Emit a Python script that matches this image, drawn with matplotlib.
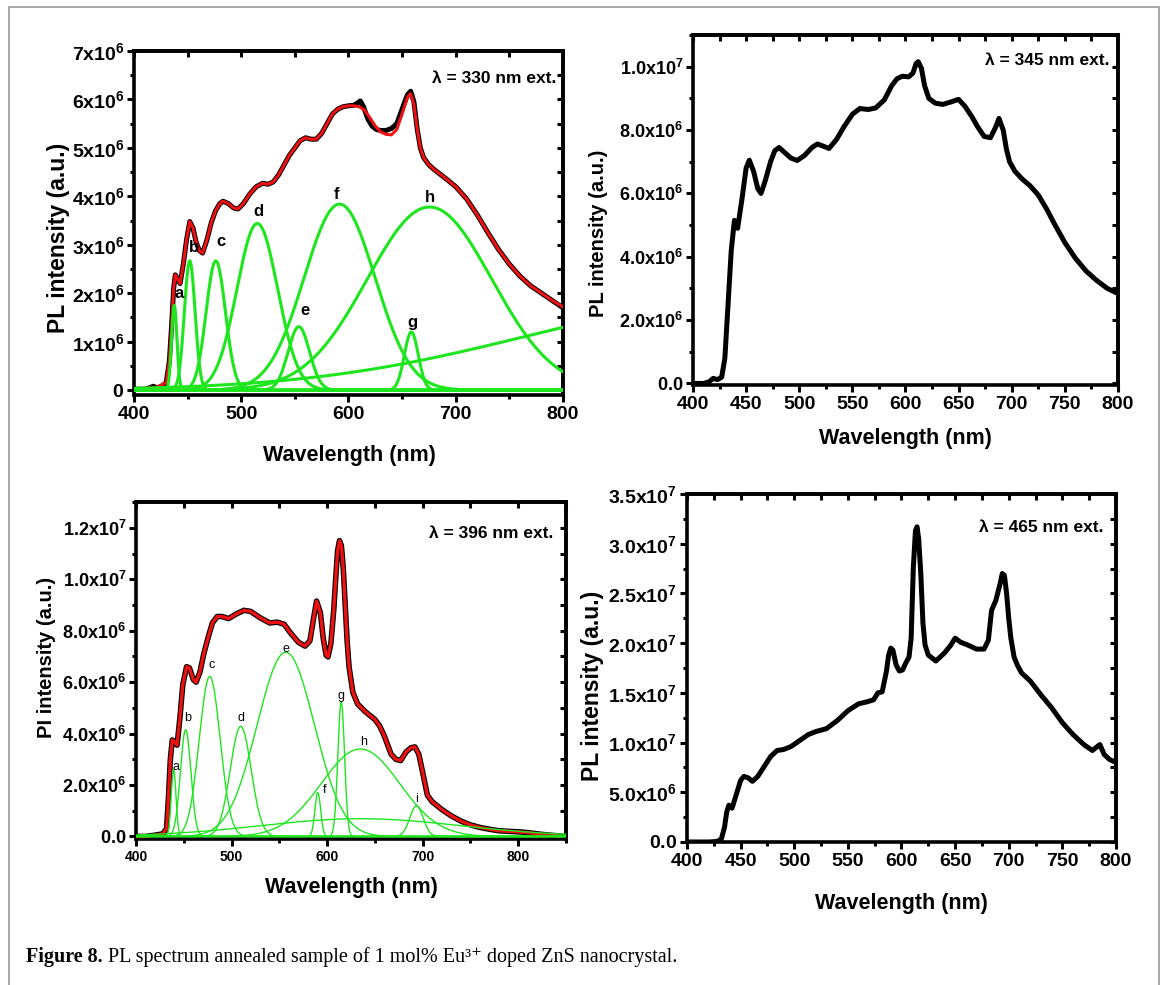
import numpy as np
import matplotlib
matplotlib.use('Agg')
import matplotlib.pyplot as plt
from matplotlib.ticker import MultipleLocator, FixedLocator
from matplotlib.patches import Rectangle

plt.rcParams['font.family'] = ['Liberation Sans', 'DejaVu Sans']
plt.rcParams['font.weight'] = 'bold'
plt.rcParams['mathtext.fontset'] = 'custom'
plt.rcParams['mathtext.rm'] = 'Liberation Serif'
plt.rcParams['mathtext.bf'] = 'Liberation Sans:bold'
plt.rcParams['mathtext.default'] = 'bf'

GREEN = '#1ee61e'

# ---- panel 1: 330 nm excitation (PL in units of 1e6) ----
p1_wl = [400, 410, 415, 418, 421, 425, 430, 433, 435, 437,
         438.5, 441, 443, 446, 449, 452, 455, 458, 461, 464,
         468, 472, 476, 480, 483, 488, 493, 497, 502, 508,
         514, 520, 525, 530, 535, 540, 545, 550, 555, 560,
         565, 570, 575, 580, 585, 590, 595, 600, 605, 608,
         611, 614, 618, 622, 626, 630, 635, 640, 645, 650,
         655, 658, 661, 664, 667, 670, 675, 680, 690, 700,
         710, 720, 730, 740, 750, 760, 770, 780, 790, 800]
p1_pl = [0.02, 0.02, 0.05, 0.08, 0.05, 0.07, 0.15, 0.6, 1.3, 2.1,
         2.38, 2.28, 2.2, 2.6, 3.1, 3.48, 3.35, 3.05, 2.88, 2.83,
         3.1, 3.45, 3.7, 3.85, 3.9, 3.85, 3.76, 3.74, 3.85, 4.05,
         4.2, 4.27, 4.25, 4.3, 4.45, 4.65, 4.85, 5.0, 5.15, 5.21,
         5.18, 5.18, 5.3, 5.5, 5.7, 5.8, 5.85, 5.87, 5.88, 5.92,
         5.97, 5.85, 5.6, 5.45, 5.38, 5.36, 5.36, 5.4, 5.5, 5.8,
         6.1, 6.17, 5.95, 5.4, 5.0, 4.8, 4.65, 4.55, 4.38, 4.2,
         3.95, 3.62, 3.25, 2.9, 2.6, 2.35, 2.15, 2.0, 1.85, 1.7]
p1_fit_wl = [400, 420, 430, 433, 435, 437, 438.5, 441, 443, 446,
             449, 452, 455, 458, 461, 464, 468, 472, 476, 480,
             483, 488, 493, 497, 502, 508, 514, 520, 525, 530,
             535, 540, 545, 550, 555, 560, 565, 570, 575, 580,
             585, 590, 595, 600, 605, 610, 615, 620, 625, 630,
             635, 640, 645, 650, 655, 658, 661, 664, 667, 670,
             675, 680, 690, 700, 710, 720, 730, 740, 750, 760,
             770, 780, 790, 800]
p1_fit = [0.02, 0.05, 0.15, 0.6, 1.3, 2.1, 2.38, 2.28, 2.2, 2.6,
          3.1, 3.48, 3.35, 3.05, 2.88, 2.83, 3.1, 3.45, 3.7, 3.85,
          3.9, 3.85, 3.76, 3.74, 3.85, 4.05, 4.2, 4.27, 4.25, 4.3,
          4.45, 4.65, 4.85, 5.0, 5.15, 5.21, 5.18, 5.18, 5.3, 5.5,
          5.7, 5.8, 5.85, 5.87, 5.87, 5.85, 5.78, 5.62, 5.45, 5.33,
          5.28, 5.27, 5.38, 5.7, 6.05, 6.12, 5.9, 5.4, 5.0, 4.8,
          4.65, 4.55, 4.38, 4.2, 3.95, 3.62, 3.25, 2.9, 2.6, 2.35,
          2.15, 2.0, 1.85, 1.72]
# gaussian components a-h plus broad background
p1_names = ['a', 'b', 'c', 'd', 'e', 'f', 'g', 'h', '']
p1_center = [437.6, 452, 476.3, 515, 553.7, 591.7, 658.6, 675.5, 968]
p1_height = [1.75, 2.67, 2.67, 3.44, 1.31, 3.84, 1.2, 3.78, 1.82]
p1_sigma = [2.5, 5, 9, 19, 10, 33, 6.5, 58, 204]
p1_lab_x = [442, 456, 481.6, 516, 559, 589, 659.6, 676]
p1_lab_y = [2.0, 2.95, 3.06, 3.69, 1.64, 4.03, 1.4, 3.98]

# ---- panel 2: 345 nm excitation ----
p2_wl = [400, 410, 415, 419, 423, 427, 430, 433, 436, 439,
         442, 446, 450, 453, 457, 461, 464, 468, 473, 477,
         481, 486, 492, 498, 505, 512, 517, 522, 528, 535,
         542, 550, 557, 565, 572, 580, 587, 592, 597, 603,
         607, 610, 612, 615, 618, 622, 628, 635, 642, 650,
         656, 662, 668, 674, 680, 685, 688, 692, 695, 698,
         703, 710, 717, 725, 733, 740, 750, 760, 770, 780,
         790, 800]
p2_pl = [0.0, 0.0, 0.05, 0.16, 0.12, 0.2, 0.8, 2.5, 4.2, 5.15,
         4.9, 5.8, 6.8, 7.05, 6.7, 6.15, 6.0, 6.4, 7.0, 7.35,
         7.45, 7.3, 7.12, 7.04, 7.2, 7.45, 7.56, 7.5, 7.42, 7.7,
         8.1, 8.5, 8.68, 8.65, 8.7, 8.95, 9.4, 9.62, 9.7, 9.68,
         9.8, 10.1, 10.16, 9.95, 9.4, 9.0, 8.85, 8.81, 8.88, 8.97,
         8.75, 8.45, 8.1, 7.8, 7.76, 8.1, 8.37, 8.0, 7.4, 7.0,
         6.7, 6.45, 6.25, 5.95, 5.5, 5.05, 4.45, 3.95, 3.55, 3.25,
         3.0, 2.84]

# ---- panel 3: 396 nm excitation ----
p3_wl = [400, 410, 420, 428, 432, 434, 436, 438, 441, 443,
         446, 449, 453, 456, 460, 463, 467, 471, 476, 480,
         485, 490, 497, 505, 513, 520, 530, 540, 548, 555,
         562, 570, 577, 582, 586, 589, 593, 596, 599, 601,
         604, 607, 609, 611, 613, 615, 617, 619, 621, 623, 627, 632,
         640, 650, 655, 660, 667, 672, 677, 683, 688, 692,
         696, 700, 705, 710, 720, 730, 740, 750, 760, 770,
         780, 790, 800, 810, 820, 830, 840, 845]
p3_pl = [0.0, 0.0, 0.05, 0.1, 0.3, 1.5, 3.0, 3.75, 3.65, 3.55,
         4.6, 5.9, 6.6, 6.55, 6.1, 6.0, 6.4, 7.1, 7.8, 8.3,
         8.55, 8.55, 8.47, 8.65, 8.79, 8.75, 8.5, 8.3, 8.33, 8.25,
         7.9, 7.55, 7.4, 7.6, 8.5, 9.15, 8.7, 7.7, 7.05, 6.98,
         7.5, 8.8, 10.0, 11.1, 11.5, 11.3, 10.4, 9.0, 7.6, 6.6, 5.6, 5.15,
         4.85, 4.55, 4.3, 3.9, 3.2, 3.0, 2.95, 3.3, 3.45, 3.48,
         3.2, 2.5, 1.6, 1.35, 1.05, 0.8, 0.6, 0.45, 0.35, 0.28,
         0.22, 0.2, 0.18, 0.15, 0.1, 0.06, 0.03, 0.01]
p3_names = ['a', 'b', 'c', 'd', 'e', 'f', 'g', 'h', 'i', '']
p3_center = [439.4, 452, 477.2, 509.6, 556.8, 590.3, 614.8, 634.9, 693.6, 635]
p3_height = [2.6, 4.15, 6.22, 4.28, 7.16, 1.71, 5.23, 3.4, 1.19, 0.69]
p3_sigma = [2.5, 5.5, 11, 11, 30, 3, 3.5, 41, 7, 105]
p3_lab_x = [441.4, 454.4, 478.8, 509.6, 556.8, 597, 614.8, 638, 693.6]
p3_lab_y = [2.7, 4.6, 6.68, 4.6, 7.3, 1.82, 5.47, 3.66, 1.45]

# ---- panel 4: 465 nm excitation ----
p4_wl = [400, 420, 428, 432, 435, 437, 439, 442, 446, 450,
         453, 457, 461, 466, 472, 478, 484, 490, 497, 505,
         513, 520, 530, 540, 550, 560, 568, 574, 578, 582,
         586, 588, 590, 592, 595, 598, 601, 604, 607, 609, 611, 613, 614.5, 616,
         618, 620, 622, 625, 632, 640, 646, 650, 655, 662, 670,
         677, 681, 684, 688, 692, 694, 696, 698, 700, 702, 705, 708,
         712, 720, 730, 740, 750, 760, 770, 778, 782, 785,
         789, 794, 800]
p4_pl = [0.0, 0.0, 0.05, 0.3, 1.5, 3.0, 3.7, 3.4, 4.8, 6.2,
         6.6, 6.45, 6.1, 6.6, 7.6, 8.6, 9.2, 9.3, 9.6, 10.2,
         10.8, 11.1, 11.4, 12.2, 13.2, 13.9, 14.1, 14.3, 15.0, 15.1,
         17.2, 18.8, 19.5, 19.3, 17.8, 17.2, 17.3, 18.0, 18.6, 20.5, 27.5, 31.3, 31.7, 30.5,
         27.0, 22.0, 19.8, 18.8, 18.2, 19.0, 19.8, 20.5, 20.1, 19.8, 19.4,
         19.4, 20.3, 23.3, 24.3, 26.0, 27.0, 26.8, 25.0, 22.5, 20.5, 18.6, 17.8,
         17.0, 16.2, 14.8, 13.5, 12.0, 10.8, 9.8, 9.2, 9.55, 9.8,
         8.8, 8.3, 8.0]

# tick labels
p1_yticks = [0, 1, 2, 3, 4, 5, 6, 7]
p1_ylabels = ['$0$'] + ['$%dx10^{6}$' % v for v in p1_yticks[1:]]
p2_yticks = [0, 2, 4, 6, 8, 10]
p2_ylabels = ['$0.0$', '$2.0x10^{6}$', '$4.0x10^{6}$', '$6.0x10^{6}$', '$8.0x10^{6}$', '$1.0x10^{7}$']
p3_yticks = [0, 2, 4, 6, 8, 10, 12]
p3_ylabels = ['$0.0$', '$2.0x10^{6}$', '$4.0x10^{6}$', '$6.0x10^{6}$', '$8.0x10^{6}$', '$1.0x10^{7}$', '$1.2x10^{7}$']
p4_yticks = [0, 5, 10, 15, 20, 25, 30, 35]
p4_ylabels = ['$0.0$', '$5.0x10^{6}$', '$1.0x10^{7}$', '$1.5x10^{7}$', '$2.0x10^{7}$', '$2.5x10^{7}$', '$3.0x10^{7}$', '$3.5x10^{7}$']


def gauss(x, c, h, s):
    return h * np.exp(-(x - c) ** 2 / (2.0 * s ** 2))


def style(ax, xlim, ylim, xmaj, xmin, yticks, ylabels, ymin, xfs, yfs):
    ax.set_xlim(*xlim)
    ax.set_ylim(*ylim)
    for s in ax.spines.values():
        s.set_linewidth(2.6)
    ax.xaxis.set_major_locator(MultipleLocator(xmaj))
    ax.xaxis.set_minor_locator(MultipleLocator(xmin))
    ax.yaxis.set_major_locator(FixedLocator(yticks))
    ax.yaxis.set_minor_locator(MultipleLocator(ymin))
    ax.set_yticklabels(ylabels)
    ax.tick_params(which='both', direction='out', width=2.2)
    ax.tick_params(which='major', length=5)
    ax.tick_params(which='minor', length=3)
    ax.tick_params(axis='x', labelsize=xfs, pad=3)
    ax.tick_params(axis='y', labelsize=yfs, pad=2)
    for lab in ax.get_xticklabels():
        lab.set_fontweight('bold')
    top = ax.secondary_xaxis('top')
    top.xaxis.set_major_locator(MultipleLocator(xmin))
    top.tick_params(direction='in', length=4, width=2.2, labeltop=False)
    top.spines['top'].set_linewidth(2.6)
    right = ax.secondary_yaxis('right')
    right.yaxis.set_major_locator(MultipleLocator(ymin))
    right.tick_params(direction='in', length=4, width=2.2, labelright=False)
    right.spines['right'].set_linewidth(2.6)


fig = plt.figure(figsize=(11.71, 9.85), dpi=100)

# panel 1
ax1 = fig.add_axes([0.1144, 0.599, 0.3664, 0.3492])
xs = np.arange(400, 800.5, 0.5)
ax1.plot(p1_wl, np.array(p1_pl) * 1e6, color='black', lw=3.6, zorder=2)
ax1.plot(p1_fit_wl, np.array(p1_fit) * 1e6, color='#ee1111', lw=2.2, zorder=3)
for c, h, s in zip(p1_center, p1_height, p1_sigma):
    ax1.plot(xs, gauss(xs, c, h, s) * 1e6, color=GREEN, lw=2.2, zorder=4)
for n, x, y in zip(p1_names, p1_lab_x, p1_lab_y):
    ax1.text(x, y * 1e6, n, fontsize=12, fontweight='bold', ha='center', va='center', zorder=5)
style(ax1, (400, 800), (-0.1e6, 7e6), 100, 50, [v * 1e6 for v in p1_yticks], p1_ylabels, 0.5e6, 14, 14)
ax1.text(0.984, 0.919, 'λ = 330 nm ext.', transform=ax1.transAxes, ha='right', va='center',
         fontsize=12.5, fontweight='bold')
ax1.set_xlabel('Wavelength (nm)', fontsize=15.5, fontweight='bold')
ax1.set_ylabel('PL intensity (a.u.)', fontsize=16.5, fontweight='bold')
ax1.xaxis.set_label_coords(0.503, -0.145)
ax1.yaxis.set_label_coords(-0.149, 0.456)

# panel 2
ax2 = fig.add_axes([0.5918, 0.6091, 0.3629, 0.3553])
ax2.plot(p2_wl, np.array(p2_pl) * 1e6, color='black', lw=3.6)
style(ax2, (400, 800), (-0.05e6, 1.1e7), 50, 25, [v * 1e6 for v in p2_yticks], p2_ylabels, 1e6, 14, 13)
ax2.text(0.981, 0.926, 'λ = 345 nm ext.', transform=ax2.transAxes, ha='right', va='center',
         fontsize=12.5, fontweight='bold')
ax2.set_xlabel('Wavelength (nm)', fontsize=15.5, fontweight='bold')
ax2.set_ylabel('PL intensity (a.u.)', fontsize=14.5, fontweight='bold')
ax2.xaxis.set_label_coords(0.5, -0.123)
ax2.yaxis.set_label_coords(-0.2, 0.434)

# panel 3
ax3 = fig.add_axes([0.1161, 0.1482, 0.3672, 0.3421])
xs3 = np.arange(400, 850.5, 0.5)
ax3.plot(p3_wl, np.array(p3_pl) * 1e6, color='black', lw=4.0, zorder=2)
ax3.plot(p3_wl, np.array(p3_pl) * 1e6, color='#ee1111', lw=2.4, zorder=3)
for c, h, s in zip(p3_center, p3_height, p3_sigma):
    ax3.plot(xs3, gauss(xs3, c, h, s) * 1e6, color=GREEN, lw=1.0, zorder=4)
for n, x, y in zip(p3_names, p3_lab_x, p3_lab_y):
    ax3.text(x, y * 1e6, n, fontsize=9, fontweight='normal', ha='center', va='center', zorder=5)
style(ax3, (400, 850), (-0.1e6, 1.3e7), 100, 50, [v * 1e6 for v in p3_yticks], p3_ylabels, 1e6, 10, 13)
ax3.text(0.970, 0.908, 'λ = 396 nm ext.', transform=ax3.transAxes, ha='right', va='center',
         fontsize=12.5, fontweight='bold')
ax3.set_xlabel('Wavelength (nm)', fontsize=15.5, fontweight='bold')
ax3.set_ylabel('PI intensity (a.u.)', fontsize=14.5, fontweight='bold')
ax3.xaxis.set_label_coords(0.5, -0.113)
ax3.yaxis.set_label_coords(-0.186, 0.54)

# panel 4
ax4 = fig.add_axes([0.5867, 0.1452, 0.3663, 0.3533])
ax4.plot(p4_wl, np.array(p4_pl) * 1e6, color='black', lw=3.6)
style(ax4, (400, 800), (0, 3.5e7), 50, 25, [v * 1e6 for v in p4_yticks], p4_ylabels, 2.5e6, 14, 14)
ax4.text(0.970, 0.905, 'λ = 465 nm ext.', transform=ax4.transAxes, ha='right', va='center',
         fontsize=12.5, fontweight='bold')
ax4.set_xlabel('Wavelength (nm)', fontsize=15.5, fontweight='bold')
ax4.set_ylabel('PL intensity (a.u.)', fontsize=16.5, fontweight='bold')
ax4.xaxis.set_label_coords(0.5, -0.147)
ax4.yaxis.set_label_coords(-0.193, 0.45)

# frame and caption
fig.add_artist(Rectangle((9 / 1171, -0.1), 1150 / 1171, 1.1 - 7 / 985, transform=fig.transFigure,
                         fill=False, ec='#a0a0a0', lw=1.3))
cap1 = fig.text(26 / 1171, 1 - 957 / 985, 'Figure 8.', family=['Liberation Serif', 'DejaVu Serif'],
                fontweight='bold', fontsize=14.5, va='center')
r = fig.canvas.get_renderer()
bb = cap1.get_window_extent(r)
fig.text((bb.x1 + 5) / 1171, 1 - 957 / 985,
         'PL spectrum annealed sample of 1 mol% Eu³⁺ doped ZnS nanocrystal.',
         family=['Liberation Serif', 'DejaVu Serif'], fontweight='normal', fontsize=14.5, va='center')

fig.savefig('out.png', dpi=100)
